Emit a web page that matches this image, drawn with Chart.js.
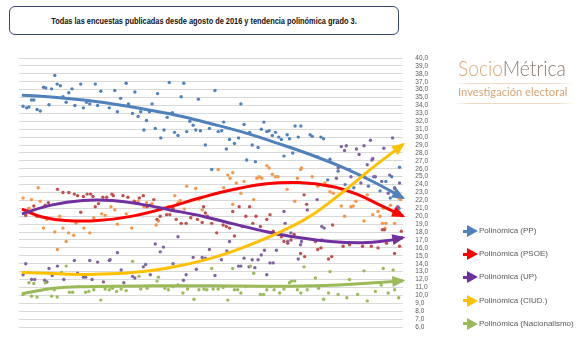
<!DOCTYPE html>
<html lang="es">
<head>
<meta charset="utf-8">
<title>Encuestas y tendencia polinómica</title>
<script src="https://cdn.jsdelivr.net/npm/chart.js@4.4.1/dist/chart.umd.min.js"></script>
<style>
  html, body { margin: 0; padding: 0; background: #fff; }
  body { width: 580px; height: 343px; position: relative; overflow: hidden; font-family: "Liberation Sans", Arial, sans-serif; }
  #grafico { position: absolute; left: 0; top: 0; }
  .titulo { position: absolute; left: 9px; top: 6px; width: 388px; height: 27px; border: 1.5px solid #34476b; border-radius: 6px; background: #fff; }
  .titulo span { position: absolute; left: 50%; top: 50%; font-weight: bold; font-size: 9px; white-space: nowrap; color: #111;
                 transform: translate(-50%, -50%) scaleX(0.82); }
  .logo { position: absolute; left: 458px; top: 57px; font-family: Lato, "Open Sans", sans-serif; font-size: 21px; font-weight: 300;
          line-height: 1; white-space: nowrap; transform-origin: left top; transform: scaleX(0.915); }
  .logo .s { color: #dba873; }
  .logo .m { color: #8b7a6c; }
  .raya { position: absolute; left: 452px; width: 122px; height: 1px;
          background: linear-gradient(to right, rgba(238,218,196,0), #eedac4 15%, #eedac4 85%, rgba(238,218,196,0)); }
  .sub { position: absolute; left: 458px; top: 86px; font-family: Lato, "Open Sans", sans-serif; font-size: 12px; color: #d5a676;
         line-height: 1; white-space: nowrap; transform-origin: left top; transform: scaleX(0.93); }
  #leyenda { position: absolute; left: 463px; top: 225px; font-size: 8px; color: #595959; }
  .fila { position: absolute; left: 0; height: 12px; line-height: 12px; white-space: nowrap; }
  .flecha { position: absolute; left: 0; top: 0; width: 15px; height: 12px; }
  .flecha::before { content: ""; position: absolute; left: 0; top: 4.5px; width: 6px; height: 3px; background: var(--c); }
  .flecha::after { content: ""; position: absolute; left: 4px; top: 0; width: 0; height: 0;
                   border-left: 11px solid var(--c); border-top: 6px solid transparent; border-bottom: 6px solid transparent; }
  .fila .txt { position: absolute; left: 16px; top: 0; }
</style>
</head>
<body>
<canvas id="grafico" width="580" height="343"></canvas>
<div class="titulo"><span>Todas las encuestas publicadas desde agosto de 2016 y tendencia polinómica grado 3.</span></div>
<div class="logo"><span class="s">Socio</span><span class="m">Métrica</span></div>
<div class="raya" style="top:83px"></div>
<div class="sub">Investigación electoral</div>
<div class="raya" style="top:103px"></div>
<div id="leyenda"></div>
<script>
// encuestas: [orden de la encuesta, estimación %]
const encuestasPP = [
  [1.4,33.9],[2.6,33.7],[3.4,33.8],[4.3,34.7],[5.1,34.7],[6.2,33.5],[7.3,33.3],[8.4,36.3],[9.2,36.2],[10.3,34.1],
  [11.2,36.1],[12.3,37.8],[13.1,36.7],[14.2,36.5],[15.1,35.1],[16.2,34.4],[17.1,35.6],[18.2,36.1],[19.2,34.0],[21.2,36.7],
  [22.1,33.7],[23.2,34.4],[24.3,34.2],[26.2,36.7],[27,34.0],[28.1,35.8],[31,33.7],[32.9,35.9],[33.8,33.2],[34.9,34.9],
  [36.8,36.8],[37.6,34.2],[39,33.0],[39.8,35.7],[40.9,32.6],[41.8,33.2],[42.9,30.9],[43.8,32.1],[44.8,33.2],[45.7,34.2],
  [46.8,31.1],[47.6,35.5],[48.7,29.9],[49.8,30.9],[50.9,32.5],[51.6,36.9],[52.7,33.1],[53.4,30.6],[54.6,30.2],[55.7,35.1],
  [56.6,36.8],[57.6,30.7],[58.7,32.0],[59.8,31.5],[60.7,30.9],[61.6,34.8],[62.3,30.8],[64,29.0],[65.4,31.1],[66.2,25.9],
  [67.3,35.9],[68.4,30.7],[69.6,30.8],[70.3,31.9],[71.2,28.5],[72.3,29.7],[74,29.2],[75.4,29.9],[76.2,34.2],[77.3,31.6],
  [78.2,27.1],[79.2,30.6],[80.1,29.0],[81.2,26.9],[82.1,28.7],[83.2,31.0],[84.1,31.9],[85.1,30.7],[85.9,30.8],[87,30.2],
  [88.1,30.6],[89.2,30.0],[90.1,29.7],[91,27.6],[92.1,30.3],[92.9,29.8],[94,28.0],[94.8,31.4],[95.9,30.0],[96.8,31.4],
  [100,30.3],[100.7,30.1],[103.7,30.0],[104.6,29.8],[102.6,27.5],[106.8,27.2],[106,24.6],[109.6,25.7],[113.5,25.9],[118.7,25.0],
  [121.8,25.0],[128,25.0],[130.7,26.2],[112,24.0],[115,23.6],[120,23.8],[124,23.2],[126,24.4],[129,23.6],[130.5,21.0],[127.5,22.3]
];
const encuestasPSOE = [
  [1.4,22.3],[3.4,21.0],[4.3,22.1],[6.6,23.6],[7.3,21.9],[8.4,18.5],[9.6,19.6],[12.3,18.0],[13.2,15.8],[14,20.0],
  [15.1,18.5],[16.2,16.8],[17,17.9],[18.8,17.6],[19.6,19.1],[22.3,18.5],[24.3,17.9],[25.7,19.8],[28.4,20.3],[29.6,20.1],
  [31.6,21.2],[32.9,20.8],[33.8,19.0],[36.8,20.3],[38.7,18.5],[40.9,21.9],[42.9,21.2],[43.8,21.7],[45.7,21.6],[47.1,18.9],
  [47.9,19.4],[49.6,21.0],[51.3,21.2],[52.4,20.7],[53.5,22.6],[54.6,21.7],[55.4,22.0],[56.8,20.9],[57.6,23.8],[60.7,23.5],
  [61.8,22.1],[62.9,20.8],[68.4,25.9],[70.3,23.6],[71.7,25.2],[72.5,24.8],[73.4,25.5],[73.4,21.5],[74.6,24.2],[76.2,22.9],
  [77.3,24.4],[80.6,22.1],[81.7,24.8],[82.5,25.0],[83.4,24.8],[85.1,26.4],[85.9,26.1],[87,25.3],[88.1,25.0],[89,25.0],
  [92.1,23.4],[94.7,21.9],[95.6,24.8],[96.7,25.9],[97,26.1],[100.7,25.0],[102.6,23.8],[105.1,24.2],[106.3,23.8],[106.8,23.1],
  [107.9,22.9],[110.7,21.3],[111.8,20.0],[114,21.2],[114.8,21.3],[115.7,21.9],[118.5,19.4],[119.6,22.7],[121.5,20.2],[123.3,20.6],
  [124,20.0],[124.8,19.1],[125.1,21.0],[125.7,18.5],[126,19.1],[127.6,21.4],[128.5,20.4],[129,19.1],[130.4,22.3],[131,22.1]
];
const encuestasUP = [
  [2.3,20.1],[2.9,20.7],[5.1,21.3],[6.2,20.0],[9,21.4],[10.1,21.7],[13.2,23.4],[15.1,23.0],[17.1,23.0],[19,22.8],
  [20.1,22.6],[21.2,20.5],[22.1,22.5],[23.4,22.8],[24.6,22.8],[25.4,22.5],[26.2,21.2],[27.3,21.6],[28.8,22.4],[30.1,22.4],
  [31.9,22.8],[32.4,22.6],[35.7,22.6],[37.4,22.4],[39.6,21.9],[41.3,22.3],[42.7,22.6],[44,21.2],[44.9,21.4],[46.3,22.1],
  [47.4,19.6],[48.5,20.0],[50.7,20.2],[51.8,20.2],[52.9,21.0],[54,19.6],[55.7,19.1],[57.4,19.1],[59,19.8],[59.8,20.2],
  [61.3,19.6],[62.9,19.2],[64,20.4],[63.4,21.2],[64.7,20.0],[66.2,19.1],[67.9,17.9],[70.1,18.9],[71.2,18.7],[72.3,18.5],
  [73.4,20.6],[74,17.5],[75.6,21.2],[76.7,18.7],[77.9,20.0],[79.2,21.2],[80.3,19.1],[81.4,20.0],[82.9,18.7],[85.1,19.6],
  [86.2,20.2],[87.3,18.1],[89,17.7],[90.1,17.4],[91,16.8],[92.3,16.6],[93.4,17.0],[94.5,17.7],[96.7,15.3],[97.9,22.7],
  [98.8,21.5],[98.1,14.9],[101.8,16.8],[102.6,15.8],[103.7,16.0],[104,17.0],[106.3,14.6],[107.4,14.9],[107.7,18.9],[111.3,16.2],
  [113.5,16.4],[118,16.2],[121,16.2],[123.3,16.0],[124.8,18.3],[125.5,18.3],[126.2,16.6],[129,15.3],[130.7,16.2],[131.3,18.1]
];
const encuestasCIUD = [
  [1.4,12.6],[2.3,14.0],[4.3,12.0],[5.4,12.0],[8.8,11.9],[9.6,11.7],[10.3,13.4],[11.4,12.5],[13.2,13.7],[14.6,12.8],
  [15.4,12.0],[19,14.4],[20.1,12.8],[22.1,12.3],[22.9,12.3],[24.3,14.4],[25.1,12.0],[27,14.2],[29,11.7],[31,14.4],
  [31.3,14.5],[33.8,15.4],[35.1,13.2],[36,11.6],[39,12.4],[39.8,12.2],[42.7,13.6],[43.5,13.9],[45.1,12.6],[46.8,16.5],
  [48.5,15.5],[49.6,16.1],[52.9,14.0],[54.6,17.4],[56.5,11.9],[57.4,12.6],[59.8,14.8],[60.9,13.3],[62.9,14.8],[64,14.7],
  [65.4,15.8],[67.3,12.5],[69.5,14.5],[71.4,15.6],[72.3,16.8],[75.4,13.7],[76.2,13.7],[77.3,14.7],[79,13.6],[80.1,14.5],
  [81,13.5],[82.1,14.5],[83.2,15.1],[84.3,15.7],[85.1,12.6],[86.2,14.1],[87.3,14.1],[88.4,15.7],[91,20.6],[91.4,19.1],
  [92.3,16.8],[93.4,17.9],[95.9,14.6],[96.7,16.4],[97,16.8],[99,20.8],[102.4,22.1],[104,18.7],[104.8,18.5],[109,24.8],
  [109.6,26.1],[110.7,28.8],[111.3,23.4],[111.8,28.3],[112.4,28.9],[114,25.0],[115.9,28.5],[116.8,27.8],[117.4,24.2],[118.5,28.9],
  [119.6,26.5],[120.7,29.6],[121.2,27.1],[121.5,27.3],[122.4,25.0],[124.6,24.4],[125.3,28.6],[126.8,22.9],[127.3,25.2],[128.3,29.9],
  [129,23.5],[130.1,21.2],[130.7,24.2]
];
const encuestasNAC = [
  [1.4,10.1],[3.4,11.6],[4.3,9.9],[5.1,11.5],[6.2,9.8],[9,11.6],[11.2,9.9],[12.1,10.7],[13.1,9.8],[14.6,12.9],
  [16.2,13.7],[17.3,10.4],[18.4,10.4],[20.7,11.1],[22.9,10.4],[24,10.5],[25.7,10.7],[28.1,9.4],[29.6,10.8],[31,10.7],
  [32.1,10.9],[33.5,10.5],[35.1,10.8],[36.8,10.6],[39,14.3],[41.2,12.4],[41.8,10.8],[44,10.9],[47.4,11.8],[47.9,12.3],
  [50.1,10.9],[51.3,10.7],[52.9,11.1],[54.6,11.3],[56.3,10.3],[57.9,10.8],[60.1,9.5],[61.8,10.7],[63.5,10.8],[64.5,10.7],
  [66.2,13.4],[66.7,10.8],[68.4,10.8],[70.1,11.0],[71.7,9.4],[73.4,13.4],[74,10.7],[75.1,10.7],[76.2,10.3],[77.9,11.1],
  [79.5,13.7],[80.6,12.8],[82.9,10.1],[84,10.1],[85.1,10.7],[86.2,11.1],[87.6,10.7],[89.5,10.3],[91,10.8],[92.9,11.6],
  [93.6,11.8],[94.7,11.8],[95.6,10.7],[96.8,10.3],[97.9,13.6],[99,10.7],[101.8,12.2],[102.9,10.9],[104.6,9.5],[106.3,10.3],
  [106.8,13.0],[109.6,10.1],[112.6,9.7],[113.5,12.0],[116.3,10.1],[118.5,13.1],[119.6,9.3],[122.4,10.5],[124.4,11.3],[125.1,13.4],
  [126.8,10.3],[128.5,13.2],[129,10.7],[130.4,9.7]
];

// tendencias polinómicas
const tendenciaPP = [[1,35.3],[12,35.05],[23,34.65],[34,34.1],[45,33.4],[56,32.6],[67,31.6],[78,30.5],[89,29.2],[100,27.8],[111,26.2],[122,24.3],[132,22.3]];
const tendenciaPSOE = [[1,20.9],[8,19.9],[16,19.45],[27,19.45],[38,19.95],[50,21.0],[63,22.4],[74,23.4],[85,24.1],[96,24.25],[107,23.8],[116,22.8],[124,21.4],[132,20.0]];
const tendenciaUP = [[1,20.3],[11,21.4],[22,22.0],[32,22.0],[42,21.5],[52,20.8],[63,20.0],[74,19.0],[85,18.05],[96,17.3],[107,16.8],[118,16.65],[126,16.9],[132,17.3]];
const tendenciaCIUD = [[1,12.9],[12,12.75],[23,12.65],[34,12.75],[45,13.1],[56,13.8],[67,14.8],[78,16.2],[89,17.9],[100,20.0],[111,23.0],[122,26.3],[132,29.1]];
const tendenciaNAC = [[1,10.2],[12,10.9],[23,11.1],[45,11.2],[67,11.2],[89,11.15],[105,11.25],[118,11.5],[132,11.85]];

const partidos = ['PP', 'PSOE', 'UP', 'CIUD.', 'Nacionalismo'];
const encuestas = [encuestasPP, encuestasPSOE, encuestasUP, encuestasCIUD, encuestasNAC];
const tendencias = [tendenciaPP, tendenciaPSOE, tendenciaUP, tendenciaCIUD, tendenciaNAC];
const coloresPuntos = ['#4f81bd', '#f79646', '#c0504d', '#8064a2', '#9bbb59'];
const coloresTendencia = ['#4f81bd', '#ff0000', '#7030a0', '#ffc000', '#9bbb59'];

const aPuntos = (lista) => lista.map(([x, y]) => ({ x, y }));

const datasets = [];
partidos.forEach((p, i) => {
    datasets.push({
        label: 'Polinómica (' + p + ')',
        data: aPuntos(tendencias[i]),
        showLine: true,
        borderColor: coloresTendencia[i],
        backgroundColor: coloresTendencia[i],
        borderWidth: 3,
        pointRadius: 0,
        tension: 0.4,
        order: 5 - i,
        flecha: true
    });
});
partidos.forEach((p, i) => {
    datasets.push({
        label: p,
        data: aPuntos(encuestas[i]),
        showLine: false,
        pointRadius: 1.7,
        pointBorderWidth: 0,
        pointBackgroundColor: coloresPuntos[i],
        backgroundColor: coloresPuntos[i],
        order: 20 - i
    });
});

// punta de flecha al final de cada tendencia
const flechas = {
    id: 'flechas',
    afterDatasetsDraw(chart) {
        const ctx = chart.ctx;
        chart.data.datasets.forEach((ds, i) => {
            if (!ds.flecha) return;
            const pts = chart.getDatasetMeta(i).data;
            const b = pts[pts.length - 1];
            const a = pts[pts.length - 2];
            const ang = Math.atan2(b.y - a.y, b.x - a.x);
            ctx.save();
            ctx.translate(b.x, b.y);
            ctx.rotate(ang);
            ctx.beginPath();
            ctx.moveTo(2, 0);
            ctx.lineTo(-11, -5.5);
            ctx.lineTo(-11, 5.5);
            ctx.closePath();
            ctx.fillStyle = ds.borderColor;
            ctx.fill();
            ctx.restore();
        });
    }
};

const grafico = new Chart(document.getElementById('grafico'), {
    type: 'scatter',
    data: { datasets },
    options: {
        responsive: false,
        animation: false,
        layout: { padding: { left: 19, right: 140, top: 58, bottom: 16 } },
        plugins: {
            legend: { display: false },
            tooltip: { enabled: false }
        },
        scales: {
            x: { type: 'linear', display: false, min: 0, max: 132 },
            y: {
                position: 'right',
                min: 6,
                max: 40,
                ticks: {
                    stepSize: 1,
                    autoSkip: false,
                    padding: 12,
                    color: '#595959',
                    font: { size: 6.5, family: 'Liberation Sans' },
                    callback: (v) => v.toFixed(1).replace('.', ',')
                },
                grid: { color: '#d9d9d9', drawTicks: false },
                border: { display: false }
            }
        }
    },
    plugins: [flechas]
});

// leyenda html a partir de las tendencias
const leyenda = document.getElementById('leyenda');
grafico.data.datasets.filter((d) => d.flecha).forEach((d, i) => {
    const fila = document.createElement('div');
    fila.className = 'fila';
    fila.style.top = (i * 23.2) + 'px';
    fila.innerHTML = '<span class="flecha" style="--c:' + d.borderColor + '"></span><span class="txt">' + d.label + '</span>';
    leyenda.appendChild(fila);
});
</script>
</body>
</html>
